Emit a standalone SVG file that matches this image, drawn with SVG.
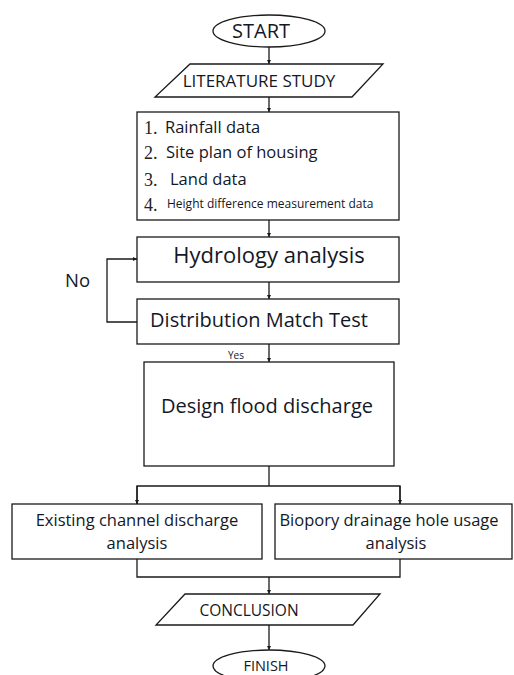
<svg xmlns="http://www.w3.org/2000/svg" width="514" height="675" viewBox="0 0 514 675">
<style>
.s{fill:#fff;stroke:#1a1a1a;stroke-width:1.3}
.c{fill:none;stroke:#1a1a1a;stroke-width:1.3}
text{font-family:"Open Sans",Lato,"Liberation Sans",sans-serif;fill:#141826}
.m{text-anchor:middle}
.n{font-family:"Liberation Serif",serif;font-size:18px;fill:#222}
.d{font-size:16.5px}
.b{font-size:16.5px}
</style>
<defs>
<marker id="a" markerWidth="5" markerHeight="5" refX="4" refY="2.5" orient="auto" markerUnits="userSpaceOnUse">
<path d="M0,0.5 L4,2.5 L0,4.5 Z" fill="#1a1a1a"/>
</marker>
</defs>
<rect width="514" height="675" fill="#fff"/>
<g id="connectors">
<line class="c" x1="269" y1="46" x2="269" y2="64" marker-end="url(#a)"/>
<line class="c" x1="269" y1="97" x2="269" y2="112" marker-end="url(#a)"/>
<line class="c" x1="269" y1="220" x2="269" y2="237" marker-end="url(#a)"/>
<line class="c" x1="269" y1="282" x2="269" y2="299" marker-end="url(#a)"/>
<line class="c" x1="269" y1="344" x2="269" y2="362" marker-end="url(#a)"/>
<polyline class="c" points="137,322 107,322 107,259 137,259" marker-end="url(#a)"/>
<polyline class="c" points="269,466 269,486"/>
<polyline class="c" points="137,504 137,486 400,486 400,504"/>
<line class="c" x1="137" y1="486" x2="137" y2="504" marker-end="url(#a)"/>
<line class="c" x1="400" y1="486" x2="400" y2="504" marker-end="url(#a)"/>
<polyline class="c" points="137,559 137,577 400,577 400,559"/>
<line class="c" x1="269" y1="577" x2="269" y2="594" marker-end="url(#a)"/>
<line class="c" x1="269" y1="625" x2="269" y2="650" marker-end="url(#a)"/>
<text x="65" y="287" style="font-size:18.5px">No</text>
<text x="236" y="359" class="m" style="font-size:10px">Yes</text>
</g>
<g id="start">
<ellipse class="s" cx="269" cy="31" rx="56" ry="16"/>
<text x="261" y="38" class="m" style="font-size:20px">START</text>
</g>
<g id="literature">
<polygon class="s" points="190,64 383,64 352,97 155,97"/>
<text x="259" y="87" class="m" style="font-size:17px">LITERATURE STUDY</text>
</g>
<g id="data">
<rect class="s" x="137" y="112" width="262" height="108"/>
<text x="144" y="134" class="n">1.</text>
<text x="165" y="133" class="d">Rainfall data</text>
<text x="144" y="159" class="n">2.</text>
<text x="166" y="158" class="d">Site plan of housing</text>
<text x="144" y="186" class="n">3.</text>
<text x="170" y="185" class="d">Land data</text>
<text x="144" y="211" class="n">4.</text>
<text x="167" y="208" style="font-size:12px">Height difference measurement data</text>
</g>
<g id="hydrology">
<rect class="s" x="137" y="237" width="262" height="45"/>
<text x="269" y="263" class="m" style="font-size:22px">Hydrology analysis</text>
</g>
<g id="distribution">
<rect class="s" x="137" y="299" width="262" height="45"/>
<text x="259" y="327" class="m" style="font-size:20px">Distribution Match Test</text>
</g>
<g id="design">
<rect class="s" x="144" y="362" width="250" height="104"/>
<text x="267" y="413" class="m" style="font-size:20px">Design flood discharge</text>
</g>
<g id="existing">
<rect class="s" x="12" y="504" width="250" height="55"/>
<text x="137" y="526" class="m b">Existing channel discharge</text>
<text x="137" y="549" class="m b">analysis</text>
</g>
<g id="biopory">
<rect class="s" x="275" y="504" width="237" height="55"/>
<text x="389" y="526" class="m b">Biopory drainage hole usage</text>
<text x="396" y="549" class="m b">analysis</text>
</g>
<g id="conclusion">
<polygon class="s" points="185,594 380,594 353,625 156,625"/>
<text x="249" y="616" class="m" style="font-size:15.5px">CONCLUSION</text>
</g>
<g id="finish">
<ellipse class="s" cx="269" cy="666" rx="56" ry="16"/>
<text x="266" y="671" class="m" style="font-size:14.5px">FINISH</text>
</g>
</svg>
